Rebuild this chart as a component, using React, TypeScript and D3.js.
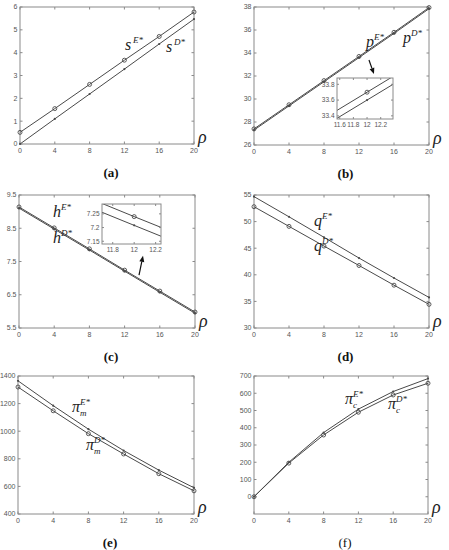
import React from 'react'
import * as d3 from 'd3'

// rho values shared by every panel
const rho = [0, 4, 8, 12, 16, 20]
const xTicks = [0, 4, 8, 12, 16, 20]

// (a)
const sE = [0.51, 1.55, 2.61, 3.67, 4.71, 5.78]
const sD = [0, 1.1, 2.19, 3.28, 4.38, 5.47]
// (b)
const pE = [27.4, 29.5, 31.6, 33.7, 35.8, 37.95]
const pD = [27.3, 29.4, 31.5, 33.6, 35.7, 37.85]
// (c)
const hE = [9.14, 8.51, 7.88, 7.24, 6.61, 5.98]
const hD = [9.105, 8.475, 7.845, 7.208, 6.575, 5.945]
// (d)
const qE = [54.7, 50.9, 47.05, 43.15, 39.4, 35.75]
const qD = [52.8, 49.1, 45.4, 41.75, 38.05, 34.45]
// (e)
const piME = [1365, 1185, 1015, 860, 718, 590]
const piMD = [1320, 1148, 982, 835, 692, 568]
// (f)
const piCE = [0, 200, 372, 508, 610, 685]
const piCD = [0, 195, 358, 490, 590, 658]

const yTicksA = [0, 1, 2, 3, 4, 5, 6]
const yTicksB = [26, 28, 30, 32, 34, 36, 38]
const yTicksC = [5.5, 6.5, 7.5, 8.5, 9.5]
const yTicksD = [30, 35, 40, 45, 50, 55]
const yTicksE = [400, 600, 800, 1000, 1200, 1400]
const yTicksF = [0, 100, 200, 300, 400, 500, 600, 700]

const insetXTicksB = [11.6, 11.8, 12, 12.2]
const insetYTicksB = [33.4, 33.6, 33.8]
const insetXTicksC = [11.8, 12, 12.2]
const insetYTicksC = [7.15, 7.2, 7.25]

const AXIS = '#8a8a8a'
const LINE = '#4a4a4a'
const TXT = '#555'
const SANS = "'Liberation Sans', Arial, sans-serif"
const SERIF = "'Liberation Serif', 'Times New Roman', serif"

type Marker = 'o' | '.'

function Markers({ xs, ys, x, y, kind, r = 2 }: any) {
  return (
    <g>
      {xs.map((v: number, i: number) =>
        kind === 'o' ? (
          <circle key={i} cx={x(v)} cy={y(ys[i])} r={r} fill="none" stroke={LINE} strokeWidth={0.9} />
        ) : (
          <circle key={i} cx={x(v)} cy={y(ys[i])} r={1.1} fill={LINE} />
        )
      )}
    </g>
  )
}

function Frame({ x, y, xt, yt, fs, tl }: any) {
  const [x0, x1] = x.range()
  const [y1, y0] = y.range()
  return (
    <g>
      <rect x={x0} y={y0} width={x1 - x0} height={y1 - y0} fill="none" stroke={AXIS} strokeWidth={1} />
      {xt.map((t: number) => (
        <g key={'x' + t}>
          <line x1={x(t)} x2={x(t)} y1={y1} y2={y1 - tl} stroke={AXIS} />
          <line x1={x(t)} x2={x(t)} y1={y0} y2={y0 + tl} stroke={AXIS} />
          <text x={x(t)} y={y1 + fs + 1.5} fontSize={fs} fill={TXT} style={{ fontFamily: SANS }} textAnchor="middle">
            {t}
          </text>
        </g>
      ))}
      {yt.map((t: number) => (
        <g key={'y' + t}>
          <line x1={x0} x2={x0 + tl} y1={y(t)} y2={y(t)} stroke={AXIS} />
          <line x1={x1} x2={x1 - tl} y1={y(t)} y2={y(t)} stroke={AXIS} />
          <text x={x0 - 2.5} y={y(t) + fs * 0.35} fontSize={fs} fill={TXT} style={{ fontFamily: SANS }} textAnchor="end">
            {t}
          </text>
        </g>
      ))}
    </g>
  )
}

function Series({ ys, x, y, kind }: { ys: number[]; x: any; y: any; kind: Marker }) {
  const line = d3
    .line<number>()
    .x((_, i) => x(rho[i]))
    .y(d => y(d))
  return (
    <g>
      <path d={line(ys) || ''} fill="none" stroke={LINE} strokeWidth={1} />
      <Markers xs={rho} ys={ys} x={x} y={y} kind={kind} />
    </g>
  )
}

function Label({ x, y, main, sup, sub }: any) {
  return (
    <g style={{ fontFamily: SERIF, fontStyle: 'italic' }} fill="#222">
      <text x={x} y={y} fontSize={16}>{main}</text>
      <text x={x + 8} y={y - 7} fontSize={9}>{sup}</text>
      {sub && <text x={x + 8} y={y + 4} fontSize={9}>{sub}</text>}
    </g>
  )
}

function Arrow({ x1, y1, x2, y2 }: any) {
  const a = Math.atan2(y2 - y1, x2 - x1)
  const L = 6
  const W = 2.5
  const bx = x2 - L * Math.cos(a)
  const by = y2 - L * Math.sin(a)
  const px = -Math.sin(a) * W
  const py = Math.cos(a) * W
  return (
    <g>
      <line x1={x1} y1={y1} x2={bx} y2={by} stroke="#111" strokeWidth={1.2} />
      <polygon points={`${x2},${y2} ${bx + px},${by + py} ${bx - px},${by - py}`} fill="#111" />
    </g>
  )
}

function Inset({ id, box, xDom, yDom, xt, yt, upper, lower, upKind, loKind }: any) {
  const x = d3.scaleLinear().domain(xDom).range([box[0], box[1]])
  const y = d3.scaleLinear().domain(yDom).range([box[3], box[2]])
  return (
    <g>
      <rect x={box[0]} y={box[2]} width={box[1] - box[0]} height={box[3] - box[2]} fill="#fff" />
      <clipPath id={id}>
        <rect x={box[0]} y={box[2]} width={box[1] - box[0]} height={box[3] - box[2]} />
      </clipPath>
      <g clipPath={`url(#${id})`}>
        <Series ys={upper} x={x} y={y} kind={upKind} />
        <Series ys={lower} x={x} y={y} kind={loKind} />
      </g>
      <Frame x={x} y={y} xt={xt} yt={yt} fs={6.5} tl={2} />
    </g>
  )
}

function Panel({ box, yDom, yTicks, upper, lower, upKind, loKind, caption, capBold, children }: any) {
  const x = d3.scaleLinear().domain([0, 20]).range([box[0], box[1]])
  const y = d3.scaleLinear().domain(yDom).range([box[3], box[2]])
  return (
    <g>
      <Frame x={x} y={y} xt={xTicks} yt={yTicks} fs={7} tl={2.5} />
      <Series ys={upper} x={x} y={y} kind={upKind} />
      <Series ys={lower} x={x} y={y} kind={loKind} />
      <text x={box[1] + 4} y={box[3] - 1} fontSize={18} style={{ fontFamily: SERIF, fontStyle: 'italic' }} fill="#222">
        ρ
      </text>
      <text
        x={(box[0] + box[1]) / 2 + 4}
        y={box[3] + 33}
        fontSize={13}
        style={{ fontFamily: SERIF, fontWeight: capBold ? 'bold' : 'normal' }}
        textAnchor="middle"
        fill="#111"
      >
        {caption}
      </text>
      {children && children(x, y)}
    </g>
  )
}

export default function App() {
  return (
    <svg width={449} height={550} style={{ position: 'absolute', left: 0, top: 0, background: '#fff' }}>
      <rect width={449} height={550} fill="#fff" />
      <Panel box={[20, 194, 7, 144]} yDom={[0, 6]} yTicks={yTicksA} upper={sE} lower={sD} upKind="o" loKind="." caption="(a)" capBold>
        {() => (
          <g>
            <Label x={125} y={50} main="s" sup="E*" />
            <Label x={166} y={52} main="s" sup="D*" />
          </g>
        )}
      </Panel>
      <Panel box={[254, 429, 7, 145]} yDom={[26, 38]} yTicks={yTicksB} upper={pE} lower={pD} upKind="o" loKind="." caption="(b)" capBold>
        {(x: any, y: any) => (
          <g>
            <Label x={366} y={47} main="p" sup="E*" />
            <Label x={403} y={43} main="p" sup="D*" />
            <Arrow x1={x(13.14)} y1={y(33.39)} x2={x(13.71)} y2={y(32.17)} />
            <Inset
              id="ib"
              box={[337, 393, 78, 119]}
              xDom={[11.56, 12.38]}
              yDom={[33.36, 33.88]}
              xt={insetXTicksB}
              yt={insetYTicksB}
              upper={pE}
              lower={pD}
              upKind="o"
              loKind="."
            />
          </g>
        )}
      </Panel>
      <Panel box={[19, 195, 195, 328]} yDom={[5.5, 9.5]} yTicks={yTicksC} upper={hE} lower={hD} upKind="o" loKind="." caption="(c)" capBold>
        {(x: any, y: any) => (
          <g>
            <Label x={53} y={217} main="h" sup="E*" />
            <Label x={53} y={243} main="h" sup="D*" />
            <Arrow x1={x(13.64)} y1={y(7.09)} x2={x(14.09)} y2={y(7.67)} />
            <Inset
              id="ic"
              box={[102, 161, 204, 244]}
              xDom={[11.7, 12.25]}
              yDom={[7.14, 7.286]}
              xt={insetXTicksC}
              yt={insetYTicksC}
              upper={hE}
              lower={hD}
              upKind="o"
              loKind="."
            />
          </g>
        )}
      </Panel>
      <Panel box={[254, 429, 195, 328]} yDom={[30, 55]} yTicks={yTicksD} upper={qE} lower={qD} upKind="." loKind="o" caption="(d)" capBold>
        {() => (
          <g>
            <Label x={314} y={226} main="q" sup="E*" />
            <Label x={314} y={251} main="q" sup="D*" />
          </g>
        )}
      </Panel>
      <Panel box={[18, 194, 376, 514]} yDom={[400, 1400]} yTicks={yTicksE} upper={piME} lower={piMD} upKind="." loKind="o" caption="(e)" capBold>
        {() => (
          <g>
            <Label x={72} y={412} main="π" sup="E*" sub="m" />
            <Label x={86} y={450} main="π" sup="D*" sub="m" />
          </g>
        )}
      </Panel>
      <Panel box={[254, 428, 376, 514]} yDom={[-100, 700]} yTicks={yTicksF} upper={piCE} lower={piCD} upKind="." loKind="o" caption="(f)" capBold={false}>
        {() => (
          <g>
            <Label x={345} y={404} main="π" sup="E*" sub="c" />
            <Label x={388} y={409} main="π" sup="D*" sub="c" />
          </g>
        )}
      </Panel>
    </svg>
  )
}
